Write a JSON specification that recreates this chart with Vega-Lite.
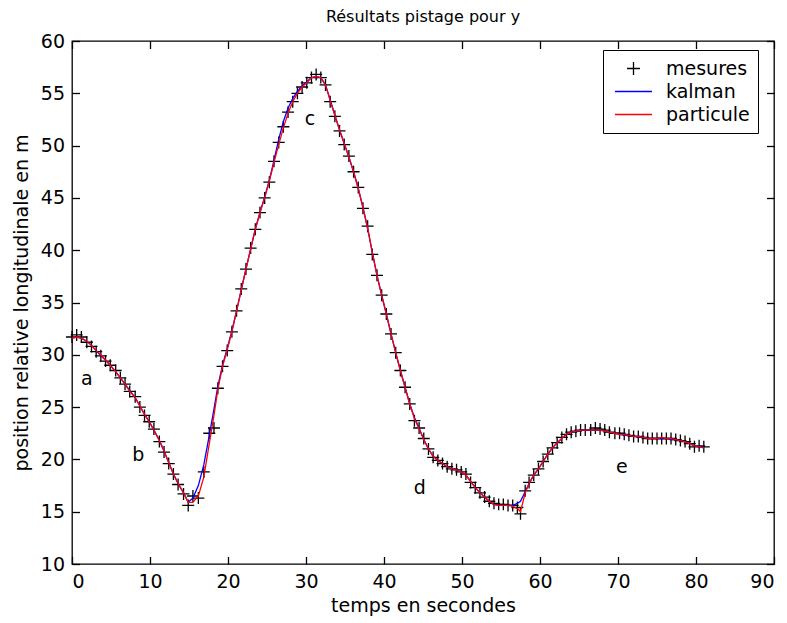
{
  "$schema": "https://vega.github.io/schema/vega-lite/v6.json",
  "width": 702,
  "height": 523,
  "autosize": {"type": "none"},
  "padding": {"left": 72, "top": 41, "right": 13, "bottom": 59},
  "background": "white",
  "title": {"text": "Résultats pistage pour y", "fontSize": 16, "fontWeight": "normal", "color": "black", "font": "DejaVu Sans", "offset": 7},
  "config": {
    "view": {"stroke": "black", "strokeWidth": 1.3},
    "font": "DejaVu Sans",
    "axis": {"grid": false, "domain": false, "tickColor": "black", "tickWidth": 1.3, "tickSize": -7.5, "labelColor": "black", "labelFontSize": 19, "titleColor": "black", "titleFontSize": 19, "titleFontWeight": "normal", "labelFont": "DejaVu Sans", "titleFont": "DejaVu Sans"}
  },
  "datasets": {
    "main": [
      {"t": 0.0, "mesures": 31.7, "kalman": 31.6, "particule": 31.6},
      {"t": 0.6, "mesures": 31.9, "kalman": 31.7, "particule": 31.7},
      {"t": 1.2, "mesures": 31.7, "kalman": 31.6, "particule": 31.6},
      {"t": 1.9, "mesures": 31.2, "kalman": 31.3, "particule": 31.3},
      {"t": 2.5, "mesures": 30.8, "kalman": 30.9, "particule": 30.9},
      {"t": 3.1, "mesures": 30.3, "kalman": 30.4, "particule": 30.4},
      {"t": 3.7, "mesures": 29.9, "kalman": 29.9, "particule": 30.0},
      {"t": 4.3, "mesures": 29.4, "kalman": 29.5, "particule": 29.5},
      {"t": 4.9, "mesures": 29.0, "kalman": 29.0, "particule": 29.0},
      {"t": 5.6, "mesures": 28.5, "kalman": 28.4, "particule": 28.4},
      {"t": 6.2, "mesures": 27.8, "kalman": 27.8, "particule": 27.8},
      {"t": 6.8, "mesures": 27.2, "kalman": 27.2, "particule": 27.2},
      {"t": 7.4, "mesures": 26.5, "kalman": 26.6, "particule": 26.5},
      {"t": 8.1, "mesures": 26.0, "kalman": 25.9, "particule": 25.9},
      {"t": 8.7, "mesures": 25.0, "kalman": 25.1, "particule": 25.1},
      {"t": 9.3, "mesures": 24.2, "kalman": 24.3, "particule": 24.3},
      {"t": 9.9, "mesures": 23.6, "kalman": 23.6, "particule": 23.6},
      {"t": 10.5, "mesures": 22.9, "kalman": 22.8, "particule": 22.8},
      {"t": 11.2, "mesures": 21.7, "kalman": 21.8, "particule": 21.8},
      {"t": 11.8, "mesures": 20.7, "kalman": 20.8, "particule": 20.8},
      {"t": 12.4, "mesures": 19.6, "kalman": 19.7, "particule": 19.7},
      {"t": 13.0, "mesures": 18.6, "kalman": 18.6, "particule": 18.6},
      {"t": 13.6, "mesures": 17.6, "kalman": 17.7, "particule": 17.7},
      {"t": 14.3, "mesures": 16.7, "kalman": 16.8, "particule": 16.8},
      {"t": 14.9, "mesures": 15.6, "kalman": 15.9, "particule": 15.9},
      {"t": 15.5, "mesures": 16.5, "kalman": 16.3, "particule": 15.9},
      {"t": 16.2, "mesures": 16.3, "kalman": 17.5, "particule": 16.5},
      {"t": 16.9, "mesures": 18.8, "kalman": 19.5, "particule": 18.3},
      {"t": 17.6, "mesures": 22.5, "kalman": 22.3, "particule": 21.5},
      {"t": 18.2, "mesures": 23.0, "kalman": 24.8, "particule": 24.2},
      {"t": 18.7, "mesures": 26.8, "kalman": 27.0, "particule": 26.7},
      {"t": 19.3, "mesures": 28.9, "kalman": 29.0, "particule": 28.9},
      {"t": 19.9, "mesures": 30.4, "kalman": 30.6, "particule": 30.5},
      {"t": 20.5, "mesures": 32.2, "kalman": 32.3, "particule": 32.2},
      {"t": 21.1, "mesures": 34.2, "kalman": 34.2, "particule": 34.2},
      {"t": 21.7, "mesures": 36.3, "kalman": 36.2, "particule": 36.2},
      {"t": 22.3, "mesures": 38.2, "kalman": 38.2, "particule": 38.2},
      {"t": 22.9, "mesures": 40.2, "kalman": 40.1, "particule": 40.1},
      {"t": 23.5, "mesures": 42.0, "kalman": 42.0, "particule": 42.0},
      {"t": 24.1, "mesures": 43.6, "kalman": 43.6, "particule": 43.6},
      {"t": 24.7, "mesures": 45.0, "kalman": 45.1, "particule": 45.0},
      {"t": 25.3, "mesures": 46.5, "kalman": 46.7, "particule": 46.6},
      {"t": 25.9, "mesures": 48.5, "kalman": 48.6, "particule": 48.4},
      {"t": 26.5, "mesures": 50.3, "kalman": 50.6, "particule": 50.1},
      {"t": 27.1, "mesures": 51.8, "kalman": 52.3, "particule": 51.7},
      {"t": 27.7, "mesures": 53.2, "kalman": 53.6, "particule": 53.1},
      {"t": 28.3, "mesures": 54.2, "kalman": 54.5, "particule": 54.2},
      {"t": 28.9, "mesures": 55.0, "kalman": 55.2, "particule": 55.0},
      {"t": 29.5, "mesures": 55.6, "kalman": 55.7, "particule": 55.6},
      {"t": 30.1, "mesures": 56.0, "kalman": 56.1, "particule": 56.0},
      {"t": 30.7, "mesures": 56.5, "kalman": 56.5, "particule": 56.5},
      {"t": 31.3, "mesures": 56.8, "kalman": 56.6, "particule": 56.6},
      {"t": 31.9, "mesures": 56.5, "kalman": 56.5, "particule": 56.5},
      {"t": 32.5, "mesures": 55.8, "kalman": 55.8, "particule": 55.8},
      {"t": 33.1, "mesures": 54.2, "kalman": 54.4, "particule": 54.3},
      {"t": 33.7, "mesures": 52.8, "kalman": 52.9, "particule": 52.9},
      {"t": 34.3, "mesures": 51.4, "kalman": 51.5, "particule": 51.5},
      {"t": 34.9, "mesures": 50.1, "kalman": 50.2, "particule": 50.2},
      {"t": 35.5, "mesures": 49.0, "kalman": 48.9, "particule": 48.9},
      {"t": 36.1, "mesures": 47.5, "kalman": 47.5, "particule": 47.5},
      {"t": 36.7, "mesures": 46.0, "kalman": 45.9, "particule": 45.9},
      {"t": 37.3, "mesures": 44.0, "kalman": 44.1, "particule": 44.1},
      {"t": 37.9, "mesures": 42.3, "kalman": 42.1, "particule": 42.1},
      {"t": 38.5, "mesures": 39.6, "kalman": 39.8, "particule": 39.8},
      {"t": 39.1, "mesures": 37.6, "kalman": 37.6, "particule": 37.6},
      {"t": 39.7, "mesures": 35.7, "kalman": 35.7, "particule": 35.7},
      {"t": 40.3, "mesures": 33.9, "kalman": 33.9, "particule": 33.9},
      {"t": 40.9, "mesures": 32.0, "kalman": 32.0, "particule": 32.0},
      {"t": 41.5, "mesures": 30.2, "kalman": 30.2, "particule": 30.2},
      {"t": 42.1, "mesures": 28.5, "kalman": 28.5, "particule": 28.5},
      {"t": 42.7, "mesures": 26.9, "kalman": 26.9, "particule": 26.9},
      {"t": 43.3, "mesures": 25.3, "kalman": 25.3, "particule": 25.3},
      {"t": 43.9, "mesures": 23.7, "kalman": 24.0, "particule": 23.9},
      {"t": 44.5, "mesures": 23.0, "kalman": 23.0, "particule": 22.9},
      {"t": 45.1, "mesures": 22.0, "kalman": 21.9, "particule": 21.9},
      {"t": 45.7, "mesures": 21.0, "kalman": 21.0, "particule": 21.0},
      {"t": 46.3, "mesures": 20.2, "kalman": 20.3, "particule": 20.3},
      {"t": 46.9, "mesures": 19.9, "kalman": 19.9, "particule": 19.9},
      {"t": 47.5, "mesures": 19.6, "kalman": 19.6, "particule": 19.6},
      {"t": 48.1, "mesures": 19.3, "kalman": 19.3, "particule": 19.3},
      {"t": 48.7, "mesures": 19.1, "kalman": 19.1, "particule": 19.1},
      {"t": 49.3, "mesures": 19.0, "kalman": 19.0, "particule": 19.0},
      {"t": 49.9, "mesures": 18.8, "kalman": 18.8, "particule": 18.8},
      {"t": 50.5, "mesures": 18.6, "kalman": 18.5, "particule": 18.5},
      {"t": 51.1, "mesures": 17.8, "kalman": 17.9, "particule": 17.9},
      {"t": 51.7, "mesures": 17.3, "kalman": 17.3, "particule": 17.3},
      {"t": 52.3, "mesures": 16.8, "kalman": 16.8, "particule": 16.8},
      {"t": 52.9, "mesures": 16.4, "kalman": 16.4, "particule": 16.4},
      {"t": 53.5, "mesures": 16.0, "kalman": 16.0, "particule": 16.0},
      {"t": 54.1, "mesures": 15.8, "kalman": 15.7, "particule": 15.7},
      {"t": 54.7, "mesures": 15.7, "kalman": 15.6, "particule": 15.6},
      {"t": 55.3, "mesures": 15.7, "kalman": 15.6, "particule": 15.6},
      {"t": 55.9, "mesures": 15.6, "kalman": 15.6, "particule": 15.6},
      {"t": 56.5, "mesures": 15.6, "kalman": 15.6, "particule": 15.5},
      {"t": 57.1, "mesures": 15.4, "kalman": 15.8, "particule": 15.3},
      {"t": 57.5, "mesures": 14.8, "kalman": 16.0, "particule": 15.0},
      {"t": 58.1, "mesures": 17.0, "kalman": 16.9, "particule": 16.8},
      {"t": 58.6, "mesures": 17.8, "kalman": 17.7, "particule": 17.7},
      {"t": 59.2, "mesures": 18.5, "kalman": 18.5, "particule": 18.5},
      {"t": 59.8, "mesures": 19.1, "kalman": 19.1, "particule": 19.1},
      {"t": 60.4, "mesures": 19.8, "kalman": 19.8, "particule": 19.8},
      {"t": 61.0, "mesures": 20.5, "kalman": 20.5, "particule": 20.5},
      {"t": 61.6, "mesures": 21.1, "kalman": 21.1, "particule": 21.1},
      {"t": 62.2, "mesures": 21.6, "kalman": 21.6, "particule": 21.6},
      {"t": 62.8, "mesures": 22.1, "kalman": 22.0, "particule": 22.0},
      {"t": 63.4, "mesures": 22.4, "kalman": 22.4, "particule": 22.4},
      {"t": 64.0, "mesures": 22.6, "kalman": 22.6, "particule": 22.6},
      {"t": 64.6, "mesures": 22.7, "kalman": 22.7, "particule": 22.7},
      {"t": 65.2, "mesures": 22.8, "kalman": 22.8, "particule": 22.8},
      {"t": 65.8, "mesures": 22.8, "kalman": 22.8, "particule": 22.8},
      {"t": 66.5, "mesures": 22.8, "kalman": 22.8, "particule": 22.8},
      {"t": 67.1, "mesures": 23.0, "kalman": 22.8, "particule": 22.8},
      {"t": 67.7, "mesures": 22.9, "kalman": 22.8, "particule": 22.8},
      {"t": 68.3, "mesures": 22.8, "kalman": 22.7, "particule": 22.7},
      {"t": 68.9, "mesures": 22.6, "kalman": 22.6, "particule": 22.6},
      {"t": 69.6, "mesures": 22.5, "kalman": 22.5, "particule": 22.5},
      {"t": 70.2, "mesures": 22.5, "kalman": 22.4, "particule": 22.4},
      {"t": 70.8, "mesures": 22.4, "kalman": 22.3, "particule": 22.4},
      {"t": 71.4, "mesures": 22.3, "kalman": 22.3, "particule": 22.3},
      {"t": 72.0, "mesures": 22.2, "kalman": 22.2, "particule": 22.2},
      {"t": 72.6, "mesures": 22.2, "kalman": 22.1, "particule": 22.2},
      {"t": 73.2, "mesures": 22.1, "kalman": 22.1, "particule": 22.1},
      {"t": 73.8, "mesures": 22.0, "kalman": 22.0, "particule": 22.0},
      {"t": 74.4, "mesures": 22.0, "kalman": 22.0, "particule": 22.0},
      {"t": 75.0, "mesures": 22.0, "kalman": 22.0, "particule": 22.0},
      {"t": 75.6, "mesures": 22.0, "kalman": 22.0, "particule": 22.1},
      {"t": 76.2, "mesures": 22.0, "kalman": 22.0, "particule": 22.0},
      {"t": 76.8, "mesures": 22.0, "kalman": 21.9, "particule": 22.0},
      {"t": 77.4, "mesures": 21.9, "kalman": 21.9, "particule": 21.9},
      {"t": 78.0, "mesures": 21.8, "kalman": 21.8, "particule": 21.8},
      {"t": 78.6, "mesures": 21.7, "kalman": 21.7, "particule": 21.7},
      {"t": 79.2, "mesures": 21.5, "kalman": 21.5, "particule": 21.5},
      {"t": 79.8, "mesures": 21.2, "kalman": 21.3, "particule": 21.3},
      {"t": 80.4, "mesures": 21.3, "kalman": 21.2, "particule": 21.2},
      {"t": 81.0, "mesures": 21.2, "kalman": 21.2, "particule": 21.1}
    ],
    "labels": [
      {"t": 1.9, "y": 27.7, "txt": "a"},
      {"t": 8.5, "y": 20.4, "txt": "b"},
      {"t": 30.5, "y": 52.5, "txt": "c"},
      {"t": 44.6, "y": 17.3, "txt": "d"},
      {"t": 70.5, "y": 19.3, "txt": "e"}
    ]
  },
  "layer": [
    {
      "data": {"name": "main"},
      "transform": [{"fold": ["mesures"], "as": ["serie", "y"]}],
      "mark": {"type": "point", "filled": false, "size": 311, "strokeWidth": 1.3, "opacity": 1},
      "encoding": {
        "x": {"field": "t", "type": "quantitative", "scale": {"domain": [0, 90], "nice": false}, "axis": {"orient": "bottom", "values": [0, 10, 20, 30, 40, 50, 60, 70, 80, 90], "title": "temps en secondes", "labelPadding": 16, "titlePadding": 5}},
        "y": {"field": "y", "type": "quantitative", "scale": {"domain": [10, 60], "nice": false, "zero": false}, "axis": {"orient": "left", "values": [10, 15, 20, 25, 30, 35, 40, 45, 50, 55, 60], "title": "position relative longitudinale en m", "labelPadding": 15, "titlePadding": 9}},
        "color": {"field": "serie", "type": "nominal", "scale": {"domain": ["mesures", "kalman", "particule"], "range": ["#000000", "#0000ff", "#ff0000"]},
          "legend": {"orient": "none", "legendX": 531, "legendY": 9, "title": null, "strokeColor": "black", "fillColor": "white", "padding": 8, "symbolOffset": 12, "rowPadding": 2, "labelFontSize": 19, "labelFont": "DejaVu Sans", "labelColor": "black", "labelOffset": 22, "symbolSize": 361, "symbolStrokeWidth": 1.3}},
        "shape": {"field": "serie", "type": "nominal", "scale": {"domain": ["mesures", "kalman", "particule"], "range": ["M-0.68,0H0.68M0,-0.68V0.68", "M-1.95,0H1.95", "M-1.95,0H1.95"]},
          "legend": {"orient": "none", "legendX": 531, "legendY": 9, "title": null, "strokeColor": "black", "fillColor": "white", "padding": 8, "symbolOffset": 12, "rowPadding": 2, "labelFontSize": 19, "labelFont": "DejaVu Sans", "labelColor": "black", "labelOffset": 22, "symbolSize": 361, "symbolStrokeWidth": 1.3}}
      }
    },
    {
      "data": {"name": "main"},
      "transform": [{"fold": ["kalman", "particule"], "as": ["serie", "y"]}],
      "mark": {"type": "line", "strokeWidth": 1.3},
      "encoding": {
        "x": {"field": "t", "type": "quantitative", "axis": {"orient": "top", "values": [0, 10, 20, 30, 40, 50, 60, 70, 80, 90], "labels": false, "title": null}},
        "y": {"field": "y", "type": "quantitative", "axis": {"orient": "right", "values": [10, 15, 20, 25, 30, 35, 40, 45, 50, 55, 60], "labels": false, "title": null}},
        "color": {"field": "serie", "type": "nominal"}
      }
    },
    {
      "data": {"name": "labels"},
      "mark": {"type": "text", "fontSize": 19, "color": "black", "font": "DejaVu Sans"},
      "encoding": {
        "x": {"field": "t", "type": "quantitative", "axis": null},
        "y": {"field": "y", "type": "quantitative", "axis": null},
        "text": {"field": "txt"}
      }
    }
  ],
  "resolve": {"axis": {"x": "independent", "y": "independent"}}
}
